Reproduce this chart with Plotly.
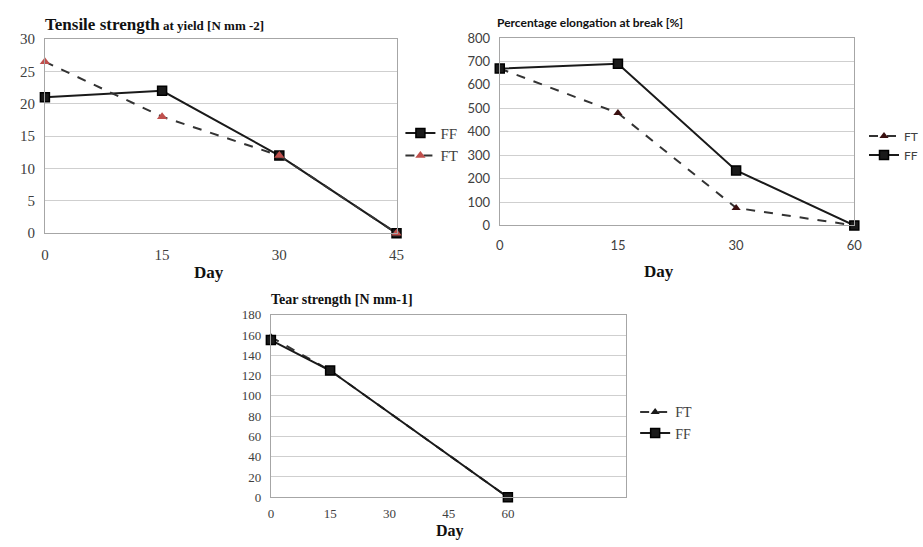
import plotly.graph_objects as go

# ---- data ----
days1 = ["0", "15", "30", "45"]
tensile_ff = [21, 22, 12, 0]
tensile_ft = [26.5, 18, 12, 0]

days2 = ["0", "15", "30", "60"]
elong_ft = [670, 480, 75, 0]
elong_ff = [670, 690, 235, 0]

days3 = [0, 15, 60]
tear_ft = [158, 125, 0]
tear_ff = [155, 125, 0]
tear_ticks = [0, 15, 30, 45, 60]

W, H = 923, 547
def fx(px): return px / W
def fy(py): return 1 - py / H

SERIF = "Liberation Serif, Times New Roman, serif"
SANS = "Lato, Open Sans, sans-serif"
GRID = "#cfcfcf"
BORDER = "#a6a6a6"
TXT = "#404040"

fig = go.Figure()

ff_marker = dict(symbol="square", size=9, color="#1a1a1a", line=dict(color="#000000", width=1.5))

# chart 1
fig.add_trace(go.Scatter(x=days1, y=tensile_ff, name="FF", mode="lines+markers",
                         line=dict(color="#1a1a1a", width=2), marker=ff_marker,
                         xaxis="x", yaxis="y", legend="legend", cliponaxis=False))
fig.add_trace(go.Scatter(x=days1, y=tensile_ft, name="FT", mode="lines+markers",
                         line=dict(color="#333333", width=2, dash="dash"),
                         marker=dict(symbol="triangle-up", size=9, color="#c0504d"),
                         xaxis="x", yaxis="y", legend="legend", cliponaxis=False))
# chart 2
fig.add_trace(go.Scatter(x=days2, y=elong_ft, name="FT", mode="lines+markers",
                         line=dict(color="#333333", width=2, dash="dash"),
                         marker=dict(symbol="triangle-up", size=8, color="#3a1010"),
                         xaxis="x2", yaxis="y2", legend="legend2", cliponaxis=False))
fig.add_trace(go.Scatter(x=days2, y=elong_ff, name="FF", mode="lines+markers",
                         line=dict(color="#1a1a1a", width=2), marker=ff_marker,
                         xaxis="x2", yaxis="y2", legend="legend2", cliponaxis=False))
# chart 3
fig.add_trace(go.Scatter(x=days3, y=tear_ft, name="FT", mode="lines+markers",
                         line=dict(color="#333333", width=2, dash="dash"),
                         marker=dict(symbol="triangle-up", size=8, color="#1a1a1a"),
                         xaxis="x3", yaxis="y3", legend="legend3", cliponaxis=False))
fig.add_trace(go.Scatter(x=days3, y=tear_ff, name="FF", mode="lines+markers",
                         line=dict(color="#1a1a1a", width=2), marker=ff_marker,
                         xaxis="x3", yaxis="y3", legend="legend3", cliponaxis=False))

def xax(domain, anchor, font, size, standoff=8, **kw):
    d = dict(domain=domain, anchor=anchor, showgrid=False, showline=True, mirror=True,
             linecolor=BORDER, linewidth=1, ticks="", zeroline=False, ticklabelstandoff=standoff,
             tickfont=dict(family=font, size=size, color=TXT), fixedrange=True)
    d.update(kw)
    return d

def yax(domain, anchor, font, rng, dtick, size=14):
    return dict(domain=domain, anchor=anchor, range=rng, dtick=dtick, showgrid=True,
                gridcolor=GRID, gridwidth=1, showline=True, mirror=True, linecolor=BORDER,
                linewidth=1, ticks="", zeroline=False, ticklabelstandoff=6,
                tickfont=dict(family=font, size=size, color=TXT), fixedrange=True)

fig.update_layout(
    width=W, height=H, margin=dict(l=0, r=0, t=0, b=0),
    paper_bgcolor="white", plot_bgcolor="white",
    xaxis=xax([fx(42), fx(403)], "y", SERIF, 15, type="category", range=[0, 3],
              categoryorder="array", categoryarray=days1),
    yaxis=yax([fy(232), fy(32)], "x", SERIF, [0, 30], 5, 15),
    xaxis2=xax([fx(509), fx(873)], "y2", SANS, 13, type="category", range=[0, 3],
               categoryorder="array", categoryarray=days2),
    yaxis2=yax([fy(224), fy(31)], "x2", SANS, [0, 800], 100, 13),
    xaxis3=xax([fx(274), fx(639)], "y3", SERIF, 13, standoff=4, range=[0, 90], tickvals=tear_ticks),
    yaxis3=yax([fy(504), fy(316)], "x3", SERIF, [0, 180], 20, 13),
    legend=dict(x=fx(407), y=fy(112), xanchor="left", yanchor="top",
                font=dict(family=SERIF, size=15, color=TXT), itemwidth=30,
                bgcolor="rgba(0,0,0,0)", tracegroupgap=0),
    legend2=dict(x=fx(883), y=fy(117), xanchor="left", yanchor="top",
                 font=dict(family=SANS, size=12, color=TXT), itemwidth=30,
                 bgcolor="rgba(0,0,0,0)"),
    legend3=dict(x=fx(648), y=fy(400), xanchor="left", yanchor="top",
                 font=dict(family=SERIF, size=14, color=TXT), itemwidth=30,
                 bgcolor="rgba(0,0,0,0)"),
    showlegend=True,
)

ann = [
    dict(text="<b><span style='font-size:17px'>Tensile strength</span> at yield [N mm -2]</b>",
         x=fx(40), y=fy(17), font=dict(family=SERIF, size=13, color="#111")),
    dict(text="<b>Percentage elongation at break [%]</b>",
         x=fx(504), y=fy(15), font=dict(family=SANS, size=12, color="#111")),
    dict(text="<b>Tear strength [N mm-1]</b>",
         x=fx(272), y=fy(300), font=dict(family=SERIF, size=14, color="#111")),
]
for a in ann:
    fig.add_annotation(xref="paper", yref="paper", xanchor="left", yanchor="middle",
                       showarrow=False, text=a["text"], x=a["x"], y=a["y"], font=a["font"])

for (px, py, sz) in [(210, 272, 17), (672, 271, 17), (458, 539, 16)]:
    fig.add_annotation(xref="paper", yref="paper", xanchor="center", yanchor="middle",
                       showarrow=False, text="<b>Day</b>", x=fx(px), y=fy(py),
                       font=dict(family=SERIF, size=sz, color="#111"))

fig.write_html("out.html")
